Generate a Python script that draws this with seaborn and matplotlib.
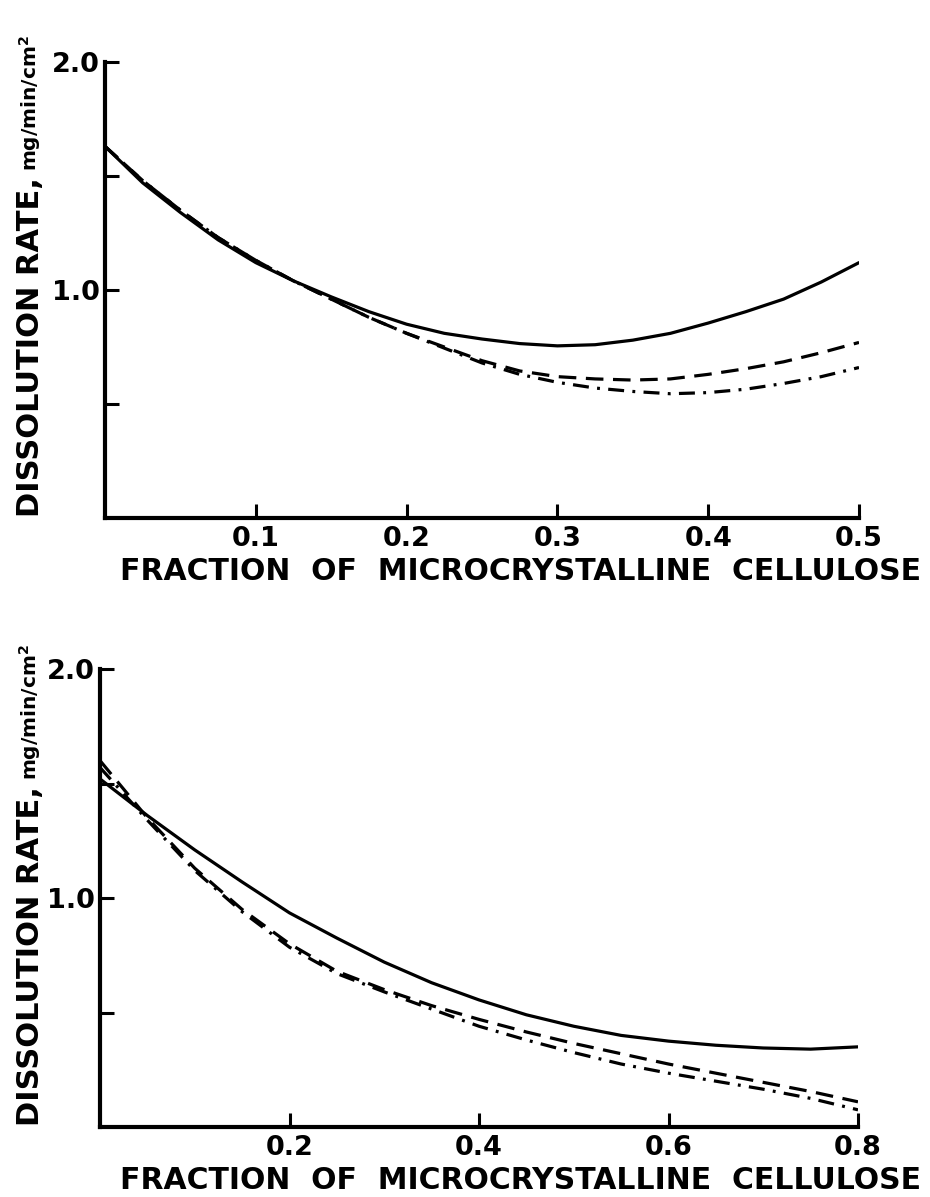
import numpy as np
import pandas as pd
import matplotlib
matplotlib.use("Agg")
import matplotlib.pyplot as plt
import seaborn as sns

# ---- data ----
x_top = [0.0, 0.025, 0.05, 0.075, 0.10, 0.125, 0.15, 0.175, 0.20, 0.225, 0.25,
         0.275, 0.30, 0.325, 0.35, 0.375, 0.40, 0.425, 0.45, 0.475, 0.50]
top_solid = [1.63, 1.47, 1.34, 1.22, 1.12, 1.04, 0.97, 0.905, 0.85, 0.81, 0.785,
             0.765, 0.755, 0.76, 0.78, 0.81, 0.855, 0.905, 0.96, 1.035, 1.12]
top_dashed = [1.63, 1.48, 1.35, 1.23, 1.13, 1.04, 0.96, 0.88, 0.81, 0.75, 0.69,
              0.645, 0.62, 0.61, 0.605, 0.61, 0.63, 0.655, 0.685, 0.725, 0.77]
top_dashdot = [1.63, 1.48, 1.35, 1.23, 1.13, 1.04, 0.96, 0.88, 0.81, 0.745, 0.68,
               0.63, 0.595, 0.57, 0.555, 0.545, 0.55, 0.565, 0.59, 0.62, 0.66]

x_bot = [0.0, 0.05, 0.10, 0.15, 0.20, 0.25, 0.30, 0.35, 0.40, 0.45, 0.50,
         0.55, 0.60, 0.65, 0.70, 0.75, 0.80]
bot_solid = [1.52, 1.36, 1.21, 1.07, 0.935, 0.825, 0.72, 0.63, 0.555, 0.49, 0.44,
             0.40, 0.375, 0.357, 0.345, 0.34, 0.35]
bot_dashed = [1.60, 1.35, 1.13, 0.95, 0.80, 0.68, 0.60, 0.53, 0.47, 0.415, 0.365,
              0.32, 0.275, 0.235, 0.195, 0.155, 0.11]
bot_dashdot = [1.57, 1.34, 1.12, 0.94, 0.785, 0.67, 0.59, 0.515, 0.44, 0.38, 0.325,
               0.275, 0.235, 0.20, 0.165, 0.125, 0.075]

top_xticks = [0.1, 0.2, 0.3, 0.4, 0.5]
top_xticklabels = ["0.1", "0.2", "0.3", "0.4", "0.5"]
bot_xticks = [0.2, 0.4, 0.6, 0.8]
bot_xticklabels = ["0.2", "0.4", "0.6", "0.8"]
yticks = [0.5, 1.0, 1.5, 2.0]
yticklabels = ["", "1.0", "", "2.0"]

xlabel = "FRACTION  OF  MICROCRYSTALLINE  CELLULOSE"
ylabel_main = "DISSOLUTION RATE,"
ylabel_unit = r"mg/min/cm$^{\mathbf{2}}$"

sns.set_style("ticks")
plt.rcParams["font.family"] = ["DejaVu Sans"]
plt.rcParams["mathtext.default"] = "bf"
plt.rcParams["text.color"] = "black"
plt.rcParams["xtick.color"] = "black"
plt.rcParams["ytick.color"] = "black"
plt.rcParams["axes.labelcolor"] = "black"

fig = plt.figure(figsize=(9.3, 11.97), dpi=100)
W, H = 930, 1197

def px_axes(l, r, t, b):
    return fig.add_axes([l / W, (H - b) / H, (r - l) / W, (b - t) / H])

ax1 = px_axes(105, 859, 62, 518)
ax2 = px_axes(100, 858, 669, 1127)

lw = 2.3
styles = [("-", None), ("--", (5.5, 3.0)), ("-.", (5.0, 2.6, 0.9, 2.6))]

def draw(ax, xs, series, xmax, xticks, xticklabels, label_x):
    for (ls, dash), ys in zip(styles, series):
        df = pd.DataFrame({"x": xs, "y": ys})
        line_kw = dict(color="black", lw=lw)
        if dash is not None:
            line_kw["dashes"] = dash
        sns.lineplot(data=df, x="x", y="y", ax=ax, estimator=None, sort=False, **line_kw)
    ax.set_xlim(0, xmax)
    ax.set_ylim(0, 2.0)
    ax.set_xticks(xticks)
    ax.set_xticklabels(xticklabels)
    ax.set_yticks(yticks)
    ax.set_yticklabels(yticklabels)
    for s in ["top", "right"]:
        ax.spines[s].set_visible(False)
    for s in ["left", "bottom"]:
        ax.spines[s].set_linewidth(3.0)
        ax.spines[s].set_color("black")
    ax.tick_params(axis="both", direction="in", length=10, width=2.2, color="black",
                   labelsize=19.5, labelcolor="black")
    ax.tick_params(axis="x", pad=6)
    ax.tick_params(axis="y", pad=4)
    for t in ax.get_xticklabels() + ax.get_yticklabels():
        t.set_fontweight("bold")
    ax.set_xlabel(xlabel, fontsize=21.5, fontweight="bold", color="black")
    ax.xaxis.set_label_coords(label_x, -0.085)
    ax.set_ylabel("")
    ax.set_facecolor("white")

draw(ax1, x_top, [top_solid, top_dashed, top_dashdot], 0.5, top_xticks, top_xticklabels,
     (521 - 105) / 754)
draw(ax2, x_bot, [bot_solid, bot_dashed, bot_dashdot], 0.8, bot_xticks, bot_xticklabels,
     (521 - 100) / 758)

def ylab(bottom_px, x_px):
    t = fig.text(x_px / W, (H - bottom_px) / H, ylabel_main, rotation=90,
                 ha="center", va="bottom", fontsize=22, fontweight="bold", color="black")
    fig.canvas.draw()
    bb = t.get_window_extent()
    fig.text((bb.x1 - 3) / W, (bb.y1 + 6) / H, ylabel_unit, rotation=90,
             ha="right", va="bottom", fontsize=14.5, fontweight="bold", color="black")

ylab(517, 31)
ylab(1126, 31)

fig.savefig("out.png", dpi=100, facecolor="white")
